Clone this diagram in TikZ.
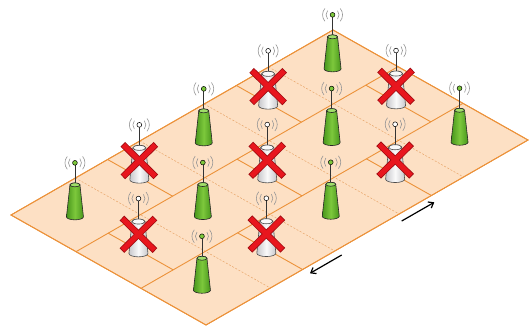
\documentclass[tikz,border=0pt]{standalone}
\usetikzlibrary{arrows.meta}

\definecolor{planefill}{RGB}{253,224,196}
\definecolor{planeline}{RGB}{236,146,58}
\definecolor{dashline}{RGB}{232,165,105}
\definecolor{greenlo}{RGB}{72,150,28}
\definecolor{greenmid}{RGB}{125,200,60}
\definecolor{greenhi}{RGB}{160,222,105}
\definecolor{offlo}{RGB}{200,200,204}
\definecolor{offhi}{RGB}{250,250,250}
\definecolor{crossred}{RGB}{232,22,30}
\definecolor{crossdark}{RGB}{160,12,18}
\definecolor{wavegray}{RGB}{150,150,150}

\tikzset{
  planeedge/.style={draw=planeline, line width=0.9pt, fill=planefill},
  cellline/.style={draw=planeline, line width=0.9pt},
  subline/.style={draw=dashline, line width=0.5pt, dash pattern=on 2pt off 1.6pt},
  wave/.style={draw=wavegray, line width=0.6pt},
  mast/.style={draw=black!80, line width=0.7pt},
  ballline/.style={draw=black, line width=0.5pt},
  bodyline/.style={draw=black!85, line width=0.6pt},
  crossout/.style={draw=crossdark, line width=6.6pt},
  crossin/.style={draw=crossred, line width=5pt},
  movearrow/.style={draw=black, line width=1.2pt, -{Straight Barb[length=4.5pt,width=7pt]}},
  % radio waves around the antenna ball
  waves/.pic={
    \foreach \r in {6.5,10} {
      \draw[wave] ([shift={(40:\r)}]0,0) arc[start angle=40, end angle=-40, radius=\r];
      \draw[wave] ([shift={(140:\r)}]0,0) arc[start angle=140, end angle=220, radius=\r];
    }
  },
  % active base station: green cone with antenna
  greentower/.pic={
    \pic at (0,54) {waves};
    \draw[mast] (0,32) -- (0,51.5);
    \draw[ballline, fill=greenmid] (0,54) circle (2.4);
    \path[left color=greenlo, right color=greenlo, middle color=greenmid]
      (-8.5,0) -- (-5,32) arc[start angle=180, end angle=0, x radius=5, y radius=2]
      -- (8.5,0) arc[start angle=0, end angle=-180, x radius=8.5, y radius=3] -- cycle;
    \draw[bodyline]
      (-8.5,0) -- (-5,32) arc[start angle=180, end angle=0, x radius=5, y radius=2]
      -- (8.5,0) arc[start angle=0, end angle=-180, x radius=8.5, y radius=3] -- cycle;
    \draw[bodyline, fill=greenhi] (0,32) ellipse[x radius=5, y radius=2];
  },
  % switched-off base station: grey body crossed out in red
  offtower/.pic={
    \pic at (0,55) {waves};
    \draw[mast] (0,32) -- (0,52.5);
    \draw[ballline, fill=white] (0,55) circle (2.4);
    \path[left color=offlo, right color=offlo, middle color=offhi]
      (-9.5,0) -- (-6.5,32) arc[start angle=180, end angle=0, x radius=6.5, y radius=2.5]
      -- (9.5,0) arc[start angle=0, end angle=-180, x radius=9.5, y radius=3.3] -- cycle;
    \draw[bodyline, draw=black!70]
      (-9.5,0) -- (-6.5,32) arc[start angle=180, end angle=0, x radius=6.5, y radius=2.5]
      -- (9.5,0) arc[start angle=0, end angle=-180, x radius=9.5, y radius=3.3] -- cycle;
    \draw[bodyline, draw=black!70, fill=offhi] (0,32) ellipse[x radius=6.5, y radius=2.5];
    \draw[crossout] (-16.5,35.5) -- (16.5,3);
    \draw[crossout] (16.5,35.5) -- (-16.5,3);
    \draw[crossin] (-15.9,34.9) -- (15.9,3.6);
    \draw[crossin] (15.9,34.9) -- (-15.9,3.6);
  }
}

\begin{document}
\begin{tikzpicture}[x=1pt, y=1pt]
\useasboundingbox (0,-329) rectangle (530,0);

% ground plane in skewed (s,t) coordinates
\begin{scope}[shift={(333,-30)}, x={(-64.4pt,-37pt)}, y={(65pt,-36.67pt)}]
  \path[planeedge] (0,0) -- (5,0) -- (5,3) -- (0,3) -- cycle;
  % original small cell borders
  \foreach \s in {1,2,3,4} \draw[subline] (\s,0) -- (\s,3);
  % merged cell borders
  \foreach \t in {1,2} \draw[cellline] (0,\t) -- (5,\t);
  \foreach \s in {1.5,3.5} {
    \draw[cellline] (\s,0) -- (\s,1);
    \draw[cellline] (\s,2) -- (\s,3);
  }
  \foreach \s in {0.5,2.5,4.5} \draw[cellline] (\s,1) -- (\s,2);
  \path[planeedge, fill=none] (0,0) -- (5,0) -- (5,3) -- (0,3) -- cycle;
\end{scope}

% base station sites
\begin{scope}[shift={(333,-32)}, x={(-64.4pt,-37pt)}, y={(63.5pt,-36.7pt)}]
  \foreach \i in {0,...,4} \foreach \j in {0,1,2}
    \coordinate (bs-\i-\j) at (\i+0.5,\j+0.5);
\end{scope}

% back to front
\pic at (bs-0-0) {greentower};
\pic at (bs-0-1) {offtower};
\pic at (bs-1-0) {offtower};
\pic at (bs-0-2) {greentower};
\pic at (bs-1-1) {greentower};
\pic at (bs-2-0) {greentower};
\pic at (bs-1-2) {offtower};
\pic at (bs-2-1) {offtower};
\pic at (bs-3-0) {offtower};
\pic at (bs-2-2) {greentower};
\pic at (bs-3-1) {greentower};
\pic at (bs-4-0) {greentower};
\pic at (bs-3-2) {offtower};
\pic at (bs-4-1) {offtower};
\pic at (bs-4-2) {greentower};

% movement arrows along the lower edge
\coordinate (up-from) at (401.7,-221);
\coordinate (up-to) at (434.3,-202.3);
\coordinate (down-from) at (341.7,-255);
\coordinate (down-to) at (310,-273.3);
\draw[movearrow] (up-from) -- (up-to);
\draw[movearrow] (down-from) -- (down-to);
\end{tikzpicture}
\end{document}
